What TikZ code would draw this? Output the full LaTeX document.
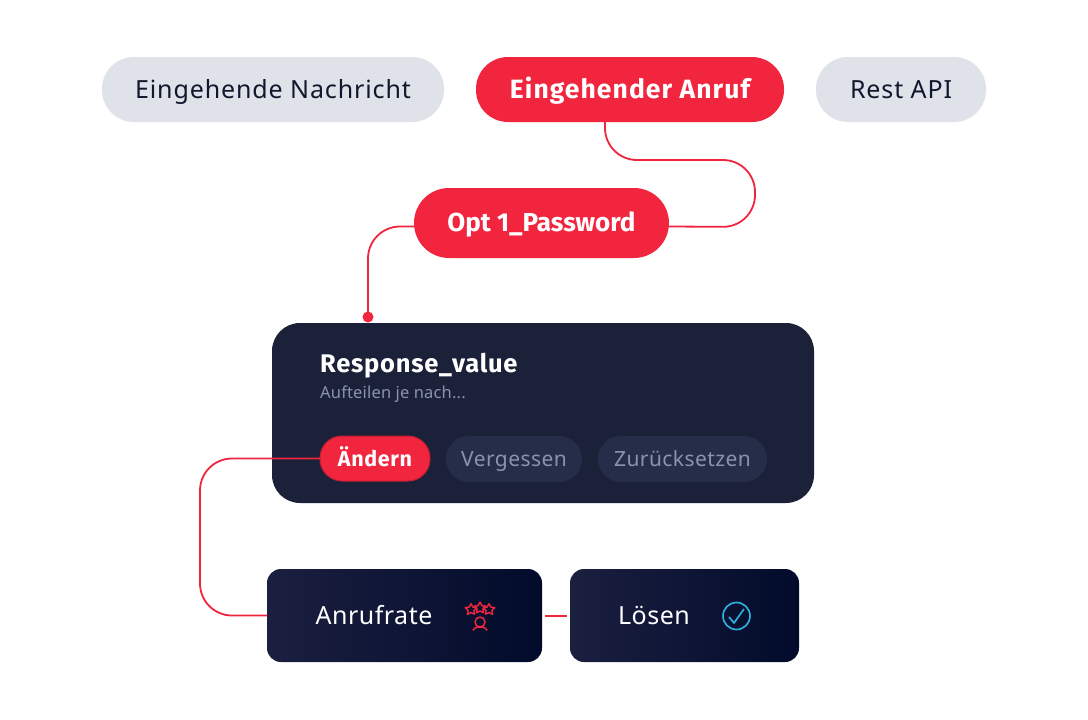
\documentclass[tikz,border=0pt]{standalone}
\usepackage{fontspec}
\setmainfont{Noto Sans}
\newfontfamily\bfam{Fira Sans}[BoldFont=* Bold]
\usetikzlibrary{calc}
\definecolor{rd}{HTML}{F2253F}
\definecolor{pill}{HTML}{DFE2E8}
\definecolor{ink}{HTML}{10182E}
\definecolor{panel}{HTML}{1B2138}
\definecolor{chip}{HTML}{252D48}
\definecolor{chiptxt}{HTML}{8A92B0}
\definecolor{gA}{HTML}{1B1F40}
\definecolor{gB}{HTML}{020B2B}
\definecolor{cy}{HTML}{2FB5E6}
\tikzset{
 x=1pt,y=-1pt,
 box/.style={inner sep=0pt,outer sep=0pt,anchor=north west},
 topgrey/.style={box,fill=pill,rounded corners=32pt,text=ink,text height=19pt,text depth=2pt,font=\fontsize{25}{30}\selectfont\addfontfeatures{LetterSpace=3.5}},
 topred/.style={box,fill=rd,rounded corners=32pt,text=white,text height=19pt,text depth=2pt,font=\bfam\bfseries\fontsize{26.5}{30}\selectfont\addfontfeatures{LetterSpace=4}},
 chipbox/.style={box,fill=chip,rounded corners=23pt,text=chiptxt,text height=16pt,text depth=1pt,font=\fontsize{21}{26}\selectfont\addfontfeatures{LetterSpace=2}},
 grad/.style={box,rounded corners=14pt,left color=gA,right color=gB},
 lbl/.style={inner sep=0pt,text=white,text height=19pt,text depth=2pt,font=\fontsize{25}{30}\selectfont\addfontfeatures{LetterSpace=2}},
 wire/.style={draw=rd,line width=1.8pt},
 ico/.style={draw=rd,line width=1.5pt,line join=round}
}
\begin{document}
\begin{tikzpicture}
\useasboundingbox[fill=white] (0,0) rectangle (1088,720);
\node[topgrey,minimum width=342pt,minimum height=65pt] (msg) at (102,57) {Eingehende Nachricht};
\node[topred,minimum width=308pt,minimum height=65pt] (call) at (476,57) {Eingehender Anruf};
\node[topgrey,minimum width=170pt,minimum height=65pt] (api) at (816,57) {Rest API};
\node[topred,rounded corners=35pt,minimum width=255pt,minimum height=70pt,font=\bfam\bfseries\fontsize{26}{30}\selectfont] (opt) at (414,188) {Opt 1\_Password};
\node[box,fill=panel,rounded corners=28pt,minimum width=542pt,minimum height=180pt] (panel) at (272,323) {};
\node[anchor=base west,inner sep=0pt,text=white,font=\bfam\bfseries\fontsize{25.5}{30}\selectfont\addfontfeatures{LetterSpace=3}] (title) at (320,372) {Response\_value};
\node[anchor=base west,inner sep=0pt,text=chiptxt,font=\fontsize{16.5}{20}\selectfont\addfontfeatures{LetterSpace=1}] (sub) at (320,398) {Aufteilen je nach...};
\node[box,fill=rd,draw=rd!80!black,line width=1pt,rounded corners=22pt,minimum width=110pt,minimum height=45pt,text=white,text height=16pt,text depth=1pt,font=\bfam\bfseries\fontsize{21.5}{26}\selectfont\addfontfeatures{LetterSpace=3}] (chg) at (320,436) {Ändern};
\node[chipbox,minimum width=136pt,minimum height=46pt] (forget) at (446,436) {Vergessen};
\node[chipbox,minimum width=169pt,minimum height=46pt] (reset) at (598,436) {Zurücksetzen};
\node[grad,minimum width=275pt,minimum height=93pt] (rate) at (267,569) {};
\node[grad,minimum width=229pt,minimum height=93pt] (solve) at (570,569) {};
\node[lbl] (ratet) at (374,616) {Anrufrate};
\node[lbl] (solvet) at (654,616) {Lösen};
\node[circle,fill=rd,minimum size=11pt,inner sep=0pt] (dot) at (368,317) {};
% connectors
\coordinate (optR) at ([yshift=-3.5pt]opt.east);
\coordinate (optL) at ([yshift=-3.5pt]opt.west);
\coordinate (gapA) at ([xshift=3pt,yshift=1pt]rate.east);
\coordinate (gapB) at ([xshift=-3pt,yshift=-1pt]solve.west);
\draw[wire,rounded corners=32pt] ([xshift=-25pt]call.south) -- ++(0,38) -- ++(150,0) -- ++(0,67) -- (optR);
\draw[wire,rounded corners=32pt] (optL) -- (dot.center |- optL) -- (dot.center);
\draw[wire,rounded corners=32pt] (chg.west) -- ++(-120,0) -- ++(0,157) -- (rate.west);
\fill[rd] (gapA) rectangle (gapB);
% star-and-person icon
\foreach \cx/\cy/\s in {471/609.5/6,480/608/6,489/609.5/6}{
 \draw[ico,line width=1.4pt] plot coordinates {
  ({\cx+\s*sin(0)},{\cy-\s*cos(0)})
  ({\cx+.5*\s*sin(36)},{\cy-.5*\s*cos(36)})
  ({\cx+\s*sin(72)},{\cy-\s*cos(72)})
  ({\cx+.5*\s*sin(108)},{\cy-.5*\s*cos(108)})
  ({\cx+\s*sin(144)},{\cy-\s*cos(144)})
  ({\cx+.5*\s*sin(180)},{\cy-.5*\s*cos(180)})
  ({\cx+\s*sin(216)},{\cy-\s*cos(216)})
  ({\cx+.5*\s*sin(252)},{\cy-.5*\s*cos(252)})
  ({\cx+\s*sin(288)},{\cy-\s*cos(288)})
  ({\cx+.5*\s*sin(324)},{\cy-.5*\s*cos(324)})
  ({\cx+\s*sin(0)},{\cy-\s*cos(0)})
 };
}
\draw[ico] (480,622) circle[radius=5pt];
\draw[ico] (473,630.5) .. controls (475,627) and (477,627) .. (480,627) .. controls (483,627) and (485,627) .. (487,630.5);
% check icon
\draw[draw=cy,line width=1.6pt] (736.5,616) circle[radius=13.5pt];
\draw[draw=cy,line width=1.6pt,line join=round] (729,617) -- (734,623) -- (744,609);
\end{tikzpicture}
\end{document}
